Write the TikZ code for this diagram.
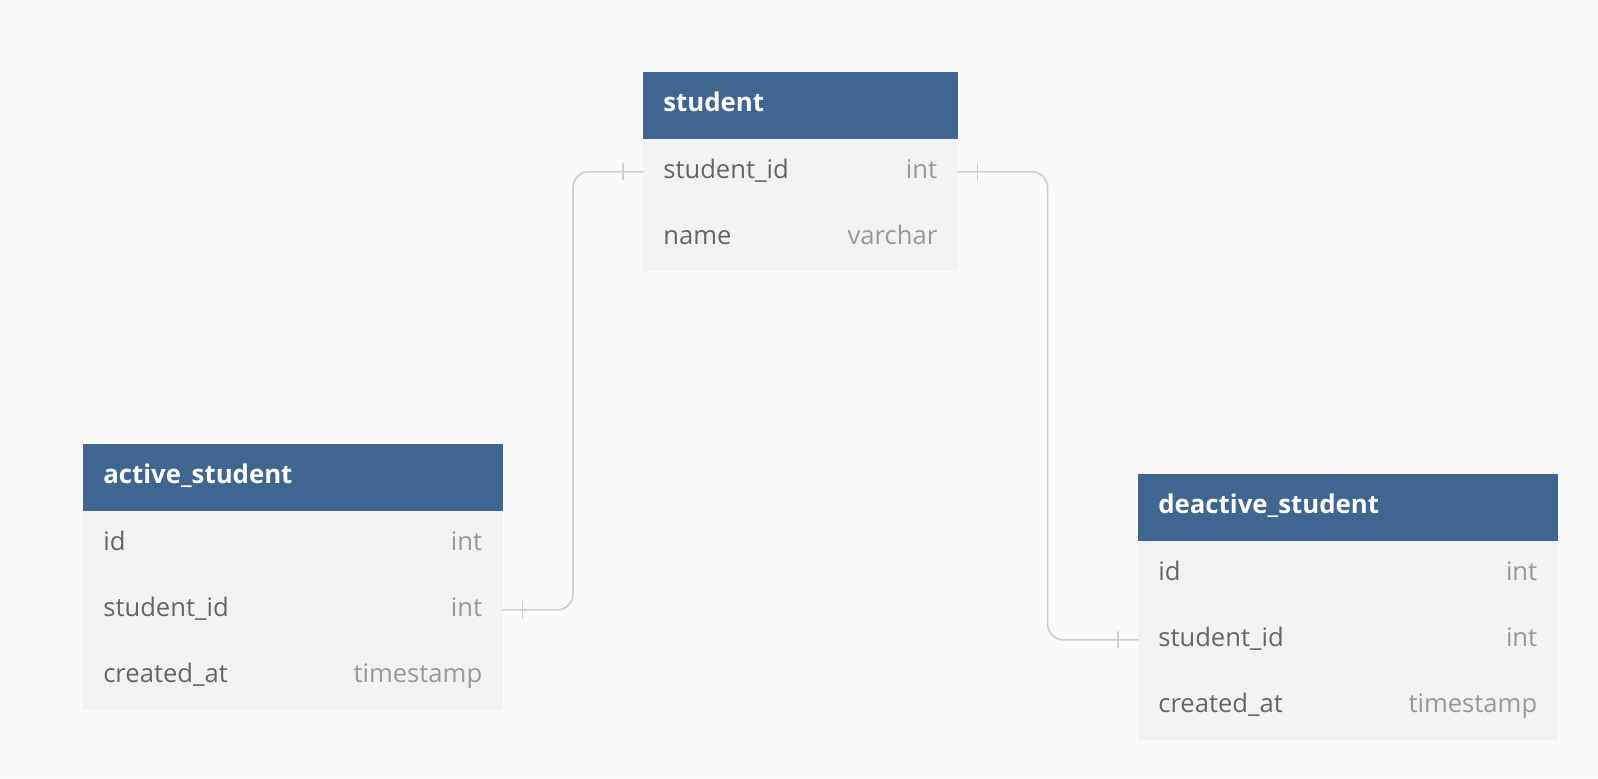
\documentclass[tikz,border=0pt]{standalone}
\usepackage{fontspec}
\setmainfont{Open Sans}
\usetikzlibrary{positioning}
\definecolor{headblue}{HTML}{3E6690}
\definecolor{rowgray}{HTML}{F2F2F2}
\definecolor{pagegray}{HTML}{FAFAFA}
\definecolor{linkgray}{HTML}{CFCFCF}
\definecolor{namegray}{HTML}{666666}
\definecolor{typegray}{HTML}{999999}

\begin{document}
\begin{tikzpicture}[
	x=0.5pt, y=-0.5pt,
	line cap=round,
	line join=round,
	every node/.style={font=\fontsize{12.8}{15}\selectfont, text height=9.6pt, text depth=3.2pt},
	tablehead/.style={
		fill=headblue,
		draw=headblue,
		line width=0.3pt,
		text=white,
		font=\fontsize{12.9}{15}\selectfont\bfseries,
		text width=#1,
		inner xsep=10pt,
		inner ysep=0pt,
		minimum height=33pt,
		align=left,
		anchor=north west
	},
	fieldrow/.style={
		fill=rowgray,
		draw=rowgray,
		line width=0.3pt,
		text=namegray,
		text width=#1,
		inner xsep=10pt,
		inner ysep=0pt,
		minimum height=32.8pt,
		align=left
	},
	fieldtype/.style={
		text=typegray,
		inner xsep=10pt,
		inner ysep=0pt,
		anchor=east
	},
	link/.style={draw=linkgray, line width=0.8pt, rounded corners=8pt}
	]
	\fill [pagegray] (0,0) rectangle (1598,778);

	% student
	\node [tablehead=137pt] (student-0) at (643,72) {student};
	\foreach \fname/\ftype [count=\i, remember=\i as \j (initially 0)] in
	{student\_id/int, name/varchar}{
		\node [fieldrow=137pt, below=0pt of student-\j] (student-\i) {\fname};
		\node [fieldtype] (student-\i-type) at (student-\i.east) {\ftype};
	}

	% active_student
	\node [tablehead=189.5pt] (active-0) at (83,444) {active\_student};
	\foreach \fname/\ftype [count=\i, remember=\i as \j (initially 0)] in
	{id/int, student\_id/int, created\_at/timestamp}{
		\node [fieldrow=189.5pt, below=0pt of active-\j] (active-\i) {\fname};
		\node [fieldtype] (active-\i-type) at (active-\i.east) {\ftype};
	}

	% deactive_student
	\node [tablehead=189.5pt] (deactive-0) at (1138,474) {deactive\_student};
	\foreach \fname/\ftype [count=\i, remember=\i as \j (initially 0)] in
	{id/int, student\_id/int, created\_at/timestamp}{
		\node [fieldrow=189.5pt, below=0pt of deactive-\j] (deactive-\i) {\fname};
		\node [fieldtype] (deactive-\i-type) at (deactive-\i.east) {\ftype};
	}

	\draw [link] (student-1.west) -- ++(-70,0) |- (active-2.east);
	\draw [link] (student-1.east) -- ++(90,0) |- (deactive-2.west);
	\foreach \tip/\dx in {student-1.west/-10pt, student-1.east/10pt, active-2.east/10pt, deactive-2.west/-10pt}
		\draw [link] ([xshift=\dx]\tip) ++(0,-8) -- ++(0,16);
\end{tikzpicture}
\end{document}
